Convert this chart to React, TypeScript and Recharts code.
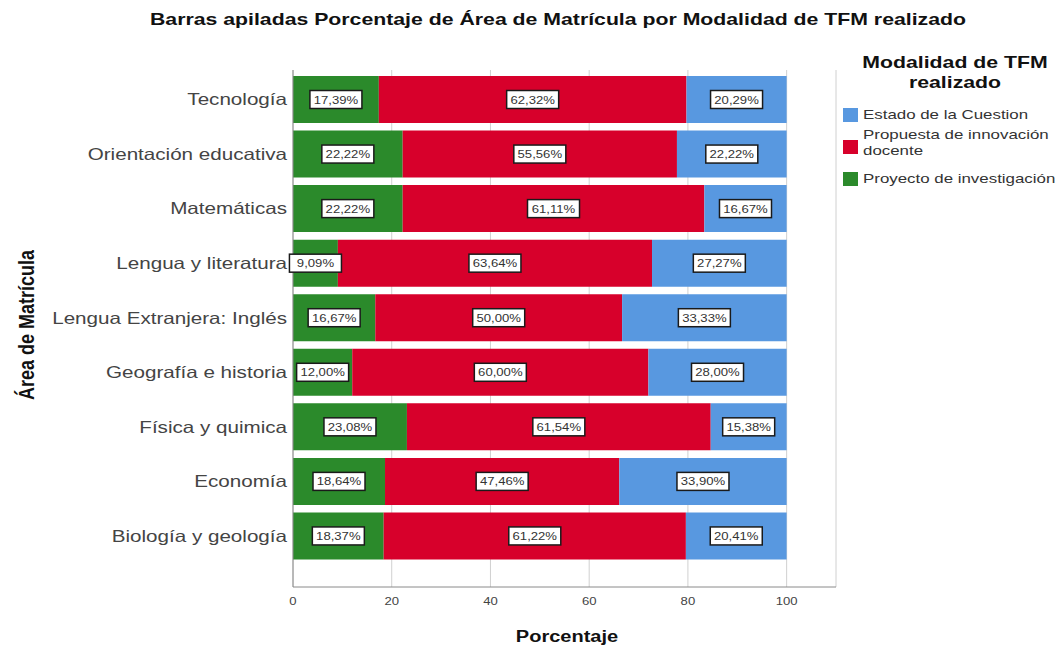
import { BarChart, Bar, XAxis, YAxis, CartesianGrid, LabelList } from "recharts";

const areas = [
  "Tecnología",
  "Orientación educativa",
  "Matemáticas",
  "Lengua y literatura",
  "Lengua Extranjera: Inglés",
  "Geografía e historia",
  "Física y quimica",
  "Economía",
  "Biología y geología",
];

const proyecto = [17.39, 22.22, 22.22, 9.09, 16.67, 12.0, 23.08, 18.64, 18.37];
const propuesta = [62.32, 55.56, 61.11, 63.64, 50.0, 60.0, 61.54, 47.46, 61.22];
const estado = [20.29, 22.22, 16.67, 27.27, 33.33, 28.0, 15.38, 33.9, 20.41];

const xTicks = [0, 20, 40, 60, 80, 100];

const legendItems = [
  { key: "estado", lines: ["Estado de la Cuestion"] },
  { key: "propuesta", lines: ["Propuesta de innovación", "docente"] },
  { key: "proyecto", lines: ["Proyecto de investigación"] },
];

const colors: Record<string, string> = {
  proyecto: "#2b8a2b",
  propuesta: "#d7002b",
  estado: "#5898e0",
};

const data = areas.map((name, i) => ({
  name,
  proyecto: proyecto[i],
  propuesta: propuesta[i],
  estado: estado[i],
}));

const font = "'Liberation Sans', Arial, sans-serif";
const SX = 1.25; // the source picture is stretched sideways

// white box with dark border around each percentage
const ValueBox = (props: any) => {
  const { x, y, width, height, value } = props;
  const cx = x + width / 2;
  const cy = y + height / 2;
  const text = value.toFixed(2).replace(".", ",") + "%";
  const w = 52;
  const h = 18;
  return (
    <g>
      <rect
        x={cx - w / 2}
        y={cy - h / 2}
        width={w}
        height={h}
        fill="#fff"
        stroke="#1a1a1a"
        strokeWidth={1.5}
      />
      <text
        x={0}
        y={0}
        transform={`translate(${cx},${cy + 4}) scale(${SX},1)`}
        textAnchor="middle"
        fontSize={10.5}
        fill="#333"
        fontFamily={font}
      >
        {text}
      </text>
    </g>
  );
};

const CatTick = (props: any) => {
  const { x, y, payload } = props;
  return (
    <text
      x={0}
      y={0}
      transform={`translate(${x},${y + 6}) scale(${SX},1)`}
      textAnchor="end"
      fontSize={16.5}
      fill="#444"
      fontFamily={font}
    >
      {payload.value}
    </text>
  );
};

const NumTick = (props: any) => {
  const { x, y, payload } = props;
  return (
    <text
      x={0}
      y={0}
      transform={`translate(${x},${y + 12}) scale(${SX},1)`}
      textAnchor="middle"
      fontSize={10.5}
      fill="#444"
      fontFamily={font}
    >
      {payload.value}
    </text>
  );
};

const LegendBox = () => (
  <div
    style={{
      position: "absolute",
      left: 843,
      top: 53,
      width: 219,
      fontFamily: font,
      color: "#333",
    }}
  >
    <div
      style={{
        position: "absolute",
        left: 12,
        top: 0,
        width: 200,
        textAlign: "center",
        fontWeight: "bold",
        fontSize: 17,
        lineHeight: "20px",
        color: "#111",
        transform: `scaleX(${SX})`,
      }}
    >
      Modalidad de TFM
      <br />
      realizado
    </div>
    {legendItems.map((it, i) => (
      <div
        key={it.key}
        style={{ position: "absolute", left: 0, top: [55, 87, 119][i] }}
      >
        <div
          style={{
            position: "absolute",
            left: 0,
            top: 0,
            width: 15,
            height: 14,
            background: colors[it.key],
          }}
        />
        <div
          style={{
            position: "absolute",
            left: 20,
            top: it.lines.length > 1 ? -13 : -1,
            fontSize: 13.5,
            lineHeight: "16px",
            whiteSpace: "nowrap",
            transform: `scaleX(${SX})`,
            transformOrigin: "left top",
          }}
        >
          {it.lines.map((l) => (
            <div key={l}>{l}</div>
          ))}
        </div>
      </div>
    ))}
  </div>
);

export default function App() {
  return (
    <div
      style={{
        position: "absolute",
        left: 0,
        top: 0,
        width: 1062,
        height: 652,
        background: "#fff",
        overflow: "hidden",
      }}
    >
      <div
        style={{
          position: "absolute",
          top: 10,
          left: 208,
          width: 700,
          textAlign: "center",
          whiteSpace: "nowrap",
          fontFamily: font,
          fontWeight: "bold",
          fontSize: 17,
          color: "#111",
          transform: `scaleX(1.25)`,
        }}
      >
        Barras apiladas Porcentaje de Área de Matrícula por Modalidad de TFM
        realizado
      </div>
      <BarChart
        width={1062}
        height={652}
        data={data}
        layout="vertical"
        margin={{ top: 70, right: 226, bottom: 35, left: 0 }}
        barSize={47}
      >
        <CartesianGrid horizontal={false} stroke="#d0d0d0" strokeWidth={1} />
        <XAxis
          type="number"
          domain={[0, 110]}
          ticks={xTicks}
          tickLine={false}
          axisLine={{ stroke: "#8a8a8a" }}
          tick={<NumTick />}
          tickMargin={0}
          height={30}
        />
        <YAxis
          type="category"
          dataKey="name"
          width={293}
          tickLine={false}
          axisLine={{ stroke: "#8a8a8a" }}
          padding={{ top: 2, bottom: 24 }}
          tick={<CatTick />}
          tickMargin={0}
        />
        <Bar
          dataKey="proyecto"
          stackId="a"
          fill={colors.proyecto}
          isAnimationActive={false}
        >
          <LabelList dataKey="proyecto" content={ValueBox} />
        </Bar>
        <Bar
          dataKey="propuesta"
          stackId="a"
          fill={colors.propuesta}
          isAnimationActive={false}
        >
          <LabelList dataKey="propuesta" content={ValueBox} />
        </Bar>
        <Bar
          dataKey="estado"
          stackId="a"
          fill={colors.estado}
          isAnimationActive={false}
        >
          <LabelList dataKey="estado" content={ValueBox} />
        </Bar>
      </BarChart>
      <div
        style={{
          position: "absolute",
          left: 467,
          top: 628,
          width: 200,
          textAlign: "center",
          fontFamily: font,
          fontWeight: "bold",
          fontSize: 16,
          color: "#111",
          transform: `scaleX(${SX})`,
        }}
      >
        Porcentaje
      </div>
      <div
        style={{
          position: "absolute",
          left: 27 - 100,
          top: 325 - 11,
          width: 200,
          textAlign: "center",
          fontFamily: font,
          fontWeight: "bold",
          fontSize: 18,
          lineHeight: "22px",
          color: "#111",
          transform: "rotate(-90deg) scaleY(1.2)",
        }}
      >
        Área de Matrícula
      </div>
      <LegendBox />
    </div>
  );
}
